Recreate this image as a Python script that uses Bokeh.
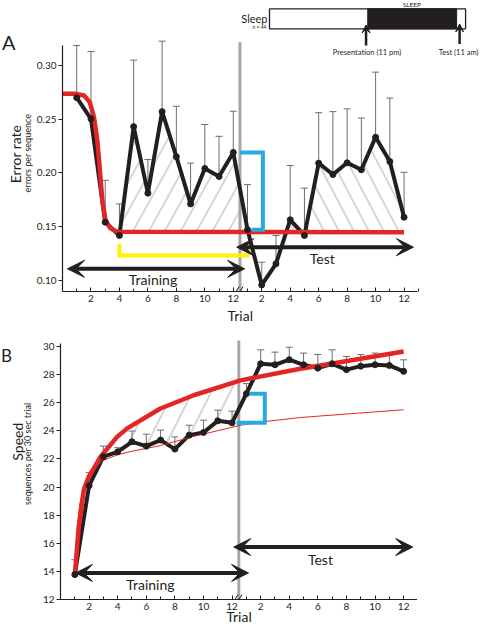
import numpy as np
from bokeh.plotting import figure
from bokeh.layouts import column, row
from bokeh.models import Range1d, FixedTicker, NumeralTickFormatter, Label, Arrow, VeeHead, Title
from bokeh.embed import file_html
from bokeh.resources import INLINE

# ---------------- data ----------------
train_trials = list(range(1, 13))
test_trials = list(range(1, 13))
trial_tick_labels = ["2", "4", "6", "8", "10", "12"]

# Panel A: error rate (errors per sequence)
err_train = [0.270, 0.2503, 0.154, 0.1416, 0.243, 0.181, 0.257, 0.215, 0.171, 0.204, 0.1966, 0.219]
err_train_upper = [0.3186, 0.313, 0.193, 0.171, 0.305, 0.2124, 0.3227, 0.262, 0.209, 0.245, 0.234, 0.2574]
err_test = [0.1469, 0.0955, 0.1152, 0.1562, 0.1416, 0.209, 0.1984, 0.2093, 0.2028, 0.2332, 0.2105, 0.1586]
err_test_upper = [0.189, 0.1167, 0.1416, 0.2068, 0.1857, 0.256, 0.257, 0.2596, 0.251, 0.2938, 0.2696, 0.2005]
# fitted curve A (trial index across training + test, value)
fitA_trial = [0.0, 0.98, 1.51, 1.91, 2.21, 2.45, 2.63, 2.80, 3.03, 3.38, 3.85, 24.0]
fitA_value = [0.2736, 0.2736, 0.272, 0.266, 0.252, 0.230, 0.202, 0.174, 0.1555, 0.148, 0.145, 0.1447]

# Panel B: speed (sequences per 30 sec trial)
speed_train = [13.77, 20.1, 22.16, 22.5, 23.22, 22.91, 23.34, 22.7, 23.69, 23.88, 24.71, 24.57]
speed_train_upper = [14.83, 21.02, 22.91, 22.8, 23.98, 23.76, 24.05, 23.57, 24.4, 24.76, 25.47, 25.4]
speed_test = [26.64, 28.77, 28.7, 29.06, 28.7, 28.46, 28.77, 28.35, 28.6, 28.7, 28.65, 28.23]
speed_test_upper = [27.36, 29.76, 29.6, 29.95, 29.53, 29.43, 29.76, 29.29, 29.43, 29.53, 29.36, 29.05]
# fitted curves B
fitB_trial = [1.0, 1.28, 1.63, 1.98, 2.33, 2.80, 3.96, 4.66, 6.99, 9.32, 12.59, 16.78, 18.9, 24.0]
fitB_value = [13.77, 17.2, 19.8, 20.74, 21.33, 22.16, 23.57, 24.17, 25.59, 26.53, 27.59, 28.42, 28.77, 29.65]
fitB_train_trial = [1.0, 1.15, 1.35, 1.65, 2.0, 2.5, 3.0, 4.0, 5.0, 7.0, 9.3, 12.6, 14.2, 16.8, 24.0]
fitB_train_value = [13.77, 16.8, 18.8, 20.1, 20.9, 21.5, 21.9, 22.3, 22.55, 22.95, 23.6, 24.4, 24.65, 24.95, 25.5]

# ---------------- styling ----------------
FONT = "Lato"
INK = "#231f20"
RED = "#e42526"
BLUE = "#27aae1"
YELLOW = "#fff200"
GREY = "#a6a6a6"
HATCH = "#d6d6d6"
ERRC = "#6d6d6d"

PX_PER_TRIAL = 14.3
PX_PER_ERR = 1 / 0.000932
PX_PER_SPEED = 14.11
n_train = len(train_trials)
x_train = np.array(train_trials, float)
x_test = np.array(test_trials, float) + n_train
x_all = np.concatenate([x_train, x_test])
SPLIT = 12.47
AXIS_END = 24.97

A_H = 326          # panel A figure height (page px)
B_H = 301          # panel B figure height
LAB_W = 33         # width of the left label strip


# pixel helpers for annotation placement (page pixel -> data)
def XA(px):
    return (px - 60) / PX_PER_TRIAL


def YA(py):
    return 0.30 - (py - 65) / PX_PER_ERR


def YB(py):
    return 12 + (600 - py) / PX_PER_SPEED


def hatch_lines(p, x0, x1, lo_x, lo_y, up_x, up_y, ky, spacing, slope, phase=0.0):
    """Draw slanted hatch lines (screen slope) in the region between two curves."""
    kx = PX_PER_TRIAL
    xs = np.linspace(x0, x1, 3000)
    X = xs * kx
    lo = np.interp(xs, lo_x, lo_y) * ky
    up = np.interp(xs, up_x, up_y) * ky
    c_all = np.concatenate([X - lo / slope, X - up / slope])
    cs = np.arange(np.floor(c_all.min() / spacing) * spacing + phase, c_all.max(), spacing)
    sx0, sy0, sx1, sy1 = [], [], [], []
    for c in cs:
        Y = slope * (X - c)
        inside = (Y >= lo) & (Y <= up)
        if not inside.any():
            continue
        d = np.diff(np.concatenate([[0], inside.astype(int), [0]]))
        starts = np.where(d == 1)[0]
        ends = np.where(d == -1)[0] - 1
        for i0, i1 in zip(starts, ends):
            if np.hypot(X[i1] - X[i0], Y[i1] - Y[i0]) < 3:
                continue
            sx0.append(X[i0] / kx); sy0.append(Y[i0] / ky)
            sx1.append(X[i1] / kx); sy1.append(Y[i1] / ky)
    p.segment(x0=sx0, y0=sy0, x1=sx1, y1=sy1, line_color=HATCH, line_width=2)


def make_fig(width, height, x_end, y0, y1, top, bottom, right):
    p = figure(width=width, height=height, x_range=Range1d(0, x_end), y_range=Range1d(y0, y1),
               output_backend="svg", toolbar_location=None,
               min_border_left=27, min_border_right=right, min_border_top=top, min_border_bottom=bottom)
    p.outline_line_color = None
    p.xgrid.visible = False
    p.ygrid.visible = False
    ax = p.xaxis[0]
    overrides = {}
    for i, lab in enumerate(trial_tick_labels):
        overrides[2 * (i + 1)] = lab
        overrides[2 * (i + 1) + n_train] = lab
    ax.ticker = FixedTicker(ticks=sorted(overrides.keys()), minor_ticks=list(range(1, 26, 2)))
    ax.major_label_overrides = overrides
    ax.bounds = (0, AXIS_END)
    for a in (p.xaxis[0], p.yaxis[0]):
        a.axis_line_color = INK
        a.axis_line_width = 1.2
        a.major_tick_line_color = INK
        a.minor_tick_line_color = INK
        a.major_label_text_font = FONT
        a.major_label_text_font_size = "10px"
        a.major_label_text_color = INK
    ax.major_tick_in = 4
    ax.major_tick_out = 0
    ax.minor_tick_in = 3
    ax.minor_tick_out = 0
    ax.major_label_standoff = 3
    ay = p.yaxis[0]
    ay.major_tick_in = 0
    ay.major_tick_out = 4
    ay.minor_tick_in = 0
    ay.minor_tick_out = 0
    ay.major_label_standoff = 2
    return p


def label_strip(height):
    s = figure(width=LAB_W, height=height, x_range=Range1d(0, LAB_W), y_range=Range1d(height, 0),
               output_backend="svg", toolbar_location=None, x_axis_location=None, y_axis_location=None,
               min_border_left=0, min_border_right=0, min_border_top=0, min_border_bottom=0)
    s.outline_line_color = None
    s.xgrid.visible = False
    s.ygrid.visible = False
    return s


def label(p, x, y, text, size, align="center", angle=0.0):
    p.add_layout(Label(x=x, y=y, text=text, text_font=FONT, text_font_size=size,
                       text_align=align, text_baseline="middle", angle=angle,
                       text_color=INK))


def darrow(p, x0, x1, y, size=17):
    p.add_layout(Arrow(x_start=x0, y_start=y, x_end=x1, y_end=y,
                       start=VeeHead(size=size, fill_color=INK, line_color=INK, line_width=1),
                       end=VeeHead(size=size, fill_color=INK, line_color=INK, line_width=1),
                       line_color=INK, line_width=4))


# ================= Panel A =================
pA = make_fig(480 - LAB_W, A_H, (480 - 60) / PX_PER_TRIAL, YA(291), YA(0), 0, A_H - 291, 0)
pA.yaxis[0].ticker = FixedTicker(ticks=[0.10, 0.15, 0.20, 0.25, 0.30])
pA.yaxis[0].formatter = NumeralTickFormatter(format="0.00")
pA.yaxis[0].bounds = (YA(291), 0.3186)
pA.add_layout(Title(text="Trial", align="left", offset=165, standoff=0, text_font=FONT,
                    text_font_size="14px", text_font_style="normal", text_color=INK), "below")

err_all = np.array(err_train + err_test)
errA_up = np.array(err_train_upper + err_test_upper)

# hatched areas between the data and the fitted curve
hatch_lines(pA, 4, 13, fitA_trial, fitA_value, x_all, err_all, PX_PER_ERR, 16, 1.8)
hatch_lines(pA, 16, 24, fitA_trial, fitA_value, x_all, err_all, PX_PER_ERR, 15, -1.9)

pA.segment(x0=x_all, y0=err_all, x1=x_all, y1=errA_up, line_color=ERRC, line_width=1)
pA.scatter(x=x_all, y=errA_up, marker="dash", size=7, line_color=ERRC, line_width=1)

pA.segment(x0=[SPLIT], y0=[YA(291)], x1=[SPLIT], y1=[YA(41.7)], line_color=GREY, line_width=3)
pA.line([4, 4, 13, 13], [0.1338, 0.1229, 0.1229, 0.1338], line_color=YELLOW, line_width=4, line_join="miter")
pA.line(x_all, err_all, line_color=INK, line_width=4, line_join="round")
pA.line(fitA_trial, fitA_value, line_color=RED, line_width=4.5, line_join="round")
pA.scatter(x_all, err_all, size=6, color=INK)
pA.line([SPLIT, 14.08, 14.08, 13.29], [err_train[-1], err_train[-1], err_test[0], err_test[0]],
        line_color=BLUE, line_width=4, line_join="miter")
pA.segment(x0=[XA(234.5), XA(238.5)], y0=[YA(291), YA(291)], x1=[XA(237.5), XA(241.5)],
           y1=[YA(286), YA(286)], line_color=INK, line_width=1)

darrow(pA, 0.35, 12.8, 0.1105)
darrow(pA, 12.24, 24.66, 0.1307)
label(pA, 6.36, 0.1004, "Training", "14px")
label(pA, 18.25, 0.1200, "Test", "14px")

# sleep timeline diagram
pA.quad(left=XA(268), right=XA(465), bottom=YA(28.3), top=YA(8.3), fill_color="white",
        line_color=INK, line_width=1.3)
pA.quad(left=XA(366.7), right=XA(456), bottom=YA(28.3), top=YA(8.3), fill_color=INK,
        line_color=INK, line_width=1)
label(pA, XA(411), YA(4.3), "SLEEP", "6.5px")
label(pA, XA(266), YA(17.5), "Sleep", "11px", align="right")
label(pA, XA(265), YA(26), "n = 44", "5px", align="right")
for xp, yp, yt in ((365, 45, 24.5), (459, 43.5, 23.5)):
    pA.add_layout(Arrow(x_start=XA(xp), y_start=YA(yp), x_end=XA(xp), y_end=YA(yt),
                        start=None, end=VeeHead(size=8, fill_color=INK, line_color=INK, line_width=1),
                        line_color=INK, line_width=2.5))
label(pA, XA(366), YA(52.3), "Presentation (11 pm)", "7.5px")
label(pA, XA(458), YA(52.3), "Test (11 am)", "7.5px")

labA = label_strip(A_H)
label(labA, 1.5, 46, "A", "20px", align="left")
label(labA, 15, 172, "Error rate", "14px", angle=np.pi / 2)
label(labA, 27, 171, "errors per sequence", "9px", angle=np.pi / 2)

# ================= Panel B =================
B_TOP = A_H
pB = make_fig(417 - LAB_W, B_H, AXIS_END, 12, YB(338), 338 - B_TOP, B_TOP + B_H - 600, 0)
ax_b = pB.xaxis[0]
ax_b.axis_label = "Trial"
ax_b.axis_label_standoff = -5
ax_b.axis_label_text_font = FONT
ax_b.axis_label_text_font_size = "14px"
ax_b.axis_label_text_font_style = "normal"
ax_b.axis_label_text_color = INK
pB.yaxis[0].ticker = FixedTicker(ticks=list(range(12, 31, 2)))
pB.yaxis[0].bounds = (12, YB(343))

sp_all = np.array(speed_train + speed_test)
spB_up = np.array(speed_train_upper + speed_test_upper)

hatch_lines(pB, 4, 12.4, x_all, sp_all, fitB_trial, fitB_value, PX_PER_SPEED, 19, 2.0)

pB.segment(x0=x_all, y0=sp_all, x1=x_all, y1=spB_up, line_color=ERRC, line_width=1)
pB.scatter(x=x_all, y=spB_up, marker="dash", size=7, line_color=ERRC, line_width=1)
pB.segment(x0=[SPLIT], y0=[12], x1=[SPLIT], y1=[YB(340)], line_color=GREY, line_width=3)
pB.line(x_all, sp_all, line_color=INK, line_width=4, line_join="round")
pB.line(fitB_train_trial, fitB_train_value, line_color=RED, line_width=1)
pB.line(fitB_trial, fitB_value, line_color=RED, line_width=4.5, line_join="round")
pB.scatter(x_all, sp_all, size=6, color=INK)
pB.line([12.31, 14.29, 14.29, 13.24], [speed_train[-1], speed_train[-1], speed_test[0], speed_test[0]],
        line_color=BLUE, line_width=4, line_join="miter")
pB.segment(x0=[XA(234.5), XA(238.5)], y0=[12, 12], x1=[XA(237.5), XA(241.5)],
           y1=[YB(595), YB(595)], line_color=INK, line_width=1)

darrow(pB, 1.05, 13.15, 13.89)
darrow(pB, 12.12, 24.64, 15.73)
label(pB, 6.29, 13.06, "Training", "14px")
label(pB, 18.18, 14.88, "Test", "14px")

labB = label_strip(B_H)
label(labB, 0.5, 346 - B_TOP, "B", "17px", align="left")
label(labB, 16.5, 445 - B_TOP, "Speed", "14px", angle=np.pi / 2)
label(labB, 27, 459 - B_TOP, "sequences per 30 sec trial", "9px", angle=np.pi / 2)

layout = column(row(labA, pA), row(labB, pB))
open("out.html", "w").write(file_html(layout, INLINE))
